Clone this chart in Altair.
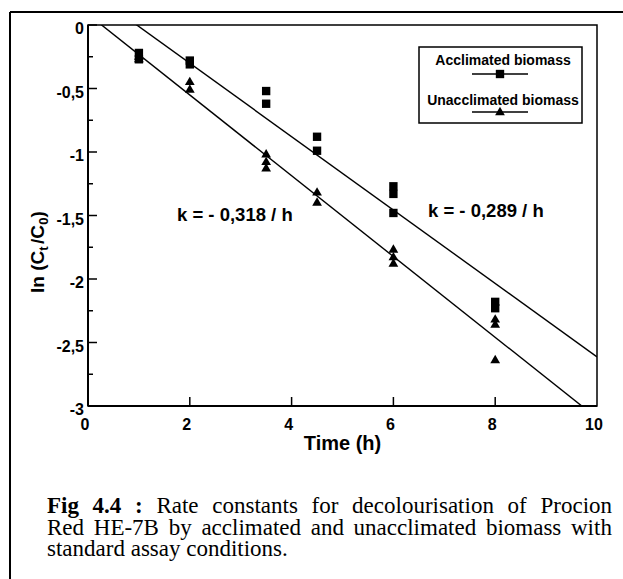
import altair as alt
import pandas as pd

# ln(Ct/C0) readings for each assay time (h)
acc_time = [1, 1, 2, 2, 3.5, 3.5, 4.5, 4.5, 6, 6, 6, 8, 8]
acc_ln = [-0.22, -0.27, -0.28, -0.31, -0.52, -0.62, -0.88, -0.99,
          -1.27, -1.33, -1.48, -2.18, -2.23]
una_time = [1, 1, 2, 2, 3.5, 3.5, 3.5, 4.5, 4.5, 6, 6, 6, 8, 8, 8]
una_ln = [-0.24, -0.26, -0.44, -0.50, -1.01, -1.07, -1.12, -1.31, -1.39,
          -1.76, -1.82, -1.87, -2.31, -2.35, -2.63]

series_names = ["Acclimated biomass", "Unacclimated biomass"]
rate_k = [-0.289, -0.318]          # first-order rate constants (1/h)
fit_intercept = [0.277, 0.085]     # intercepts of the fitted lines
rate_labels = ["k = - 0,289 / h", "k = - 0,318 / h"]

y_major = [0, -0.5, -1, -1.5, -2, -2.5, -3]
y_major_labels = ["0", "-0,5", "-1", "-1,5", "-2", "-2,5", "-3"]
y_minor = [-0.25, -0.75, -1.25, -1.75, -2.25, -2.75]
x_major = [0, 2, 4, 6, 8, 10]
x_major_labels = ["0", "2", "4", "6", "8", "10"]

caption_bold = ["Fig", "4.4", ":"]
caption_line1 = ["Rate", "constants", "for", "decolourisation", "of", "Procion"]
caption_line2 = ["Red", "HE-7B", "by", "acclimated", "and", "unacclimated",
                 "biomass", "with"]
caption_line3 = "standard assay conditions."

# ---- layout (pixels, relative to the plot area's top-left corner) ----
W, H = 509, 381
PAD = {"left": 88, "top": 25, "right": 26, "bottom": 173}
SANS = "Liberation Sans"
SERIF = "Liberation Serif"
CAP_SIZE = 23

# word start positions for the justified caption lines
bold_x = [-41, 4.6, 47.1]
line1_x = [68.4, 124.3, 223.6, 264.1, 419.6, 452.5]
line2_x = [-41, 5.8, 80.7, 113.4, 222.7, 265.6, 397.9, 483.0]
cap_y = [488, 510, 531]

points = pd.DataFrame({
    "time": acc_time + una_time,
    "ln": acc_ln + una_ln,
    "series": [series_names[0]] * len(acc_time) + [series_names[1]] * len(una_time),
})

fit_rows = []
for name, k, b in zip(series_names, rate_k, fit_intercept):
    for t in (0, 10):
        fit_rows.append({"series": name, "time": t, "ln": b + k * t})
fits = pd.DataFrame(fit_rows)

x_scale = alt.Scale(domain=[0, 10], nice=False, zero=False)
y_scale = alt.Scale(domain=[-3, 0], nice=False, zero=False)

one = pd.DataFrame({"a": [0]})

shape_scale = alt.Scale(domain=series_names, range=["square", "triangle-up"])
size_scale = alt.Scale(domain=series_names, range=[70, 95])

point_layer = alt.Chart(points).mark_point(filled=True, opacity=1, color="black").encode(
    x=alt.X("time:Q", scale=x_scale, axis=None),
    y=alt.Y("ln:Q", scale=y_scale, axis=None),
    shape=alt.Shape("series:N", scale=shape_scale, legend=None),
    size=alt.Size("series:N", scale=size_scale, legend=None),
)

fit_layer = alt.Chart(fits).mark_line(color="black", strokeWidth=1.4, clip=True).encode(
    x=alt.X("time:Q", scale=x_scale, axis=None),
    y=alt.Y("ln:Q", scale=y_scale, axis=None),
    detail="series:N",
)

# axis lines (left and bottom drawn heavier than the frame)
axis_left = alt.Chart(one).mark_rule(color="black", strokeWidth=2).encode(
    x=alt.value(0), y=alt.value(0), y2=alt.value(H))
axis_bottom = alt.Chart(one).mark_rule(color="black", strokeWidth=2).encode(
    x=alt.value(0), x2=alt.value(W), y=alt.value(H))

# inward tick marks
ytick_major = alt.Chart(pd.DataFrame({"v": y_major})).mark_rule(color="black", strokeWidth=1.5).encode(
    y=alt.Y("v:Q", scale=y_scale, axis=None), x=alt.value(0), x2=alt.value(9))
ytick_minor = alt.Chart(pd.DataFrame({"v": y_minor})).mark_rule(color="black", strokeWidth=1.5).encode(
    y=alt.Y("v:Q", scale=y_scale, axis=None), x=alt.value(0), x2=alt.value(5))
xtick = alt.Chart(pd.DataFrame({"v": x_major[1:-1]})).mark_rule(color="black", strokeWidth=1.5).encode(
    x=alt.X("v:Q", scale=x_scale, axis=None), y=alt.value(H), y2=alt.value(H - 9))

# tick labels
ylab = alt.Chart(pd.DataFrame({"v": y_major, "t": y_major_labels})).mark_text(
    font=SANS, fontWeight="bold", fontSize=16, align="right", baseline="middle",
    dy=4, color="black"
).encode(y=alt.Y("v:Q", scale=y_scale, axis=None), x=alt.value(-4), text="t:N")
xlab = alt.Chart(pd.DataFrame({"v": x_major, "t": x_major_labels})).mark_text(
    font=SANS, fontWeight="bold", fontSize=16, align="center", baseline="top",
    dx=-3, color="black"
).encode(x=alt.X("v:Q", scale=x_scale, axis=None), y=alt.value(H + 11), text="t:N")

# rate constant annotations
k_layer = alt.Chart(pd.DataFrame({"t": rate_labels, "px": [340, 89], "py": [192, 196]})).mark_text(
    font=SANS, fontWeight="bold", fontSize=18.5, align="left", baseline="alphabetic", color="black"
).encode(x=alt.X("px:Q", scale=None), y=alt.Y("py:Q", scale=None), text="t:N")

# axis titles
x_title = alt.Chart(one).mark_text(
    text="Time (h)", font=SANS, fontWeight="bold", fontSize=20, align="center",
    baseline="alphabetic", color="black").encode(x=alt.value(W / 2), y=alt.value(425))

ytitle_parts = ["ln (C", "t", "/C", "0", ")"]
ytitle_dx = [0, 42.2, 49.0, 68.2, 75.6]
ytitle_size = [19, 13, 19, 13, 19]
ytitle_dy = [0, 4, 0, 4, 0]
y_title = alt.layer(*[
    alt.Chart(one).mark_text(
        text=p, font=SANS, fontWeight="bold", fontSize=s, angle=270, align="left",
        baseline="alphabetic", dx=d, dy=dy, color="black"
    ).encode(x=alt.value(-44), y=alt.value(268))
    for p, d, s, dy in zip(ytitle_parts, ytitle_dx, ytitle_size, ytitle_dy)
])

# legend box
legend_box = alt.Chart(one).mark_rect(fill="white", stroke="black", strokeWidth=1.5).encode(
    x=alt.value(331), x2=alt.value(494), y=alt.value(22), y2=alt.value(98))
legend_text = alt.Chart(pd.DataFrame({"t": series_names, "py": [40, 80]})).mark_text(
    font=SANS, fontWeight="bold", fontSize=14, align="center", baseline="alphabetic", color="black"
).encode(x=alt.value(415), y=alt.Y("py:Q", scale=None), text="t:N")
legend_lines = alt.Chart(pd.DataFrame({"py": [49, 87]})).mark_rule(color="black", strokeWidth=1.4).encode(
    x=alt.value(384), x2=alt.value(440), y=alt.Y("py:Q", scale=None))
legend_sq = alt.Chart(one).mark_point(shape="square", filled=True, opacity=1, color="black", size=70).encode(
    x=alt.value(412), y=alt.value(49))
legend_tri = alt.Chart(one).mark_point(shape="triangle-up", filled=True, opacity=1, color="black", size=95).encode(
    x=alt.value(412), y=alt.value(86))

# page frame around figure and caption
frame_top = alt.Chart(one).mark_rule(color="black", strokeWidth=2).encode(
    x=alt.value(-78), x2=alt.value(560), y=alt.value(-13))
frame_left = alt.Chart(one).mark_rule(color="black", strokeWidth=2).encode(
    x=alt.value(-78), y=alt.value(-13), y2=alt.value(600))

# caption, justified word by word
cap_bold = alt.Chart(pd.DataFrame({"t": caption_bold, "px": bold_x})).mark_text(
    font=SERIF, fontWeight="bold", fontSize=CAP_SIZE, align="left", baseline="alphabetic", color="black"
).encode(x=alt.X("px:Q", scale=None), y=alt.value(cap_y[0]), text="t:N")
cap_l1 = alt.Chart(pd.DataFrame({"t": caption_line1, "px": line1_x})).mark_text(
    font=SERIF, fontSize=CAP_SIZE, align="left", baseline="alphabetic", color="black"
).encode(x=alt.X("px:Q", scale=None), y=alt.value(cap_y[0]), text="t:N")
cap_l2 = alt.Chart(pd.DataFrame({"t": caption_line2, "px": line2_x})).mark_text(
    font=SERIF, fontSize=CAP_SIZE, align="left", baseline="alphabetic", color="black"
).encode(x=alt.X("px:Q", scale=None), y=alt.value(cap_y[1]), text="t:N")
cap_l3 = alt.Chart(one).mark_text(
    text=caption_line3, font=SERIF, fontSize=CAP_SIZE, align="left", baseline="alphabetic", color="black"
).encode(x=alt.value(-41), y=alt.value(cap_y[2]))

chart = alt.layer(
    point_layer, fit_layer, axis_left, axis_bottom, ytick_major, ytick_minor, xtick,
    ylab, xlab, k_layer, x_title, y_title,
    legend_box, legend_text, legend_lines, legend_sq, legend_tri,
    frame_top, frame_left, cap_bold, cap_l1, cap_l2, cap_l3,
).properties(
    width=W, height=H, padding=PAD, autosize="none", background="white"
).configure_view(stroke="black", strokeWidth=1.5)

chart.save("out.html", embed_options={"renderer": "svg", "actions": False})
